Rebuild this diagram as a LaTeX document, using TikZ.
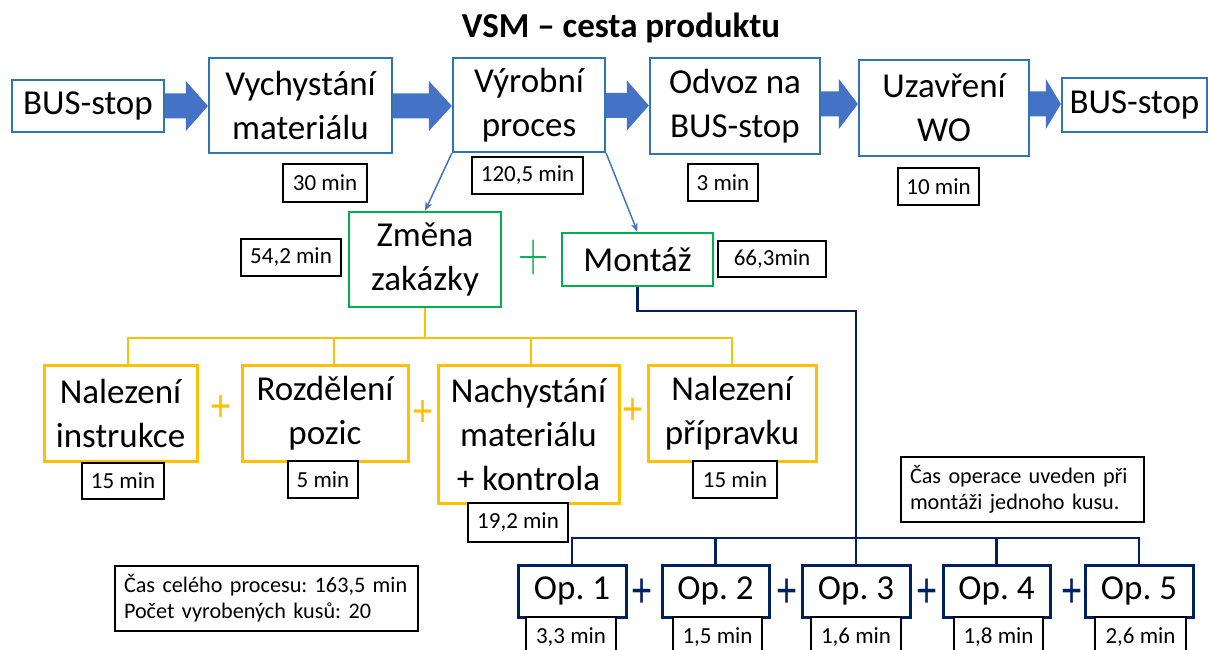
\documentclass[tikz,border=0pt]{standalone}
\usepackage{fontspec}
\setmainfont{Carlito}
\newfontfamily\plusfont{Liberation Sans}
\newfontfamily\lmfont{Latin Modern Roman}
\usetikzlibrary{arrows.meta,calc,backgrounds}
\definecolor{boxblue}{RGB}{46,117,182}
\definecolor{arrblue}{RGB}{68,114,196}
\definecolor{grn}{RGB}{0,176,80}
\definecolor{ylw}{RGB}{255,192,0}
\definecolor{navy}{RGB}{0,32,96}
\newcommand\fs[2]{\fontsize{#1}{#2}\selectfont}
% block arrow: from node #1 to node #2, head length #3 (px), centre y #4 (px)
\newcommand\blockarr[4]{%
  \fill[arrblue] let \p1=(#1.east), \p2=(#2.west) in
    (\x1,{-(#4-12.5)*1pt}) -- ({\x2-#3pt},{-(#4-12.5)*1pt}) -- ({\x2-#3pt},{-(#4-25)*1pt})
    -- (\x2,{-#4*1pt}) -- ({\x2-#3pt},{-(#4+25)*1pt}) -- ({\x2-#3pt},{-(#4+12.5)*1pt})
    -- (\x1,{-(#4+12.5)*1pt}) -- cycle;}
\tikzset{
  bbox/.style={draw=boxblue, line width=2.25pt, fill=white, font=\fs{35}{44}, align=center, inner sep=0pt},
  gbox/.style={draw=grn, line width=2.25pt, fill=white, font=\fs{35}{44}, align=center, inner sep=0pt},
  ybox/.style={draw=ylw, line width=3pt, fill=white, font=\fs{35}{44}, align=center, inner sep=0pt},
  obox/.style={draw=navy, line width=3pt, fill=white, font=\fs{35}{44}, align=center, inner sep=0pt},
  tbox/.style={draw=black, line width=1.2pt, fill=white, font=\fs{23}{26}, align=center, inner sep=0pt},
  gplus/.style={text=grn, font=\lmfont\fs{56}{56}, inner sep=0pt},
  yplus/.style={text=ylw, font=\plusfont\fs{36}{36}, inner sep=0pt},
  nplus/.style={text=navy, font=\plusfont\fs{38}{38}, inner sep=0pt},
  tarrow/.style={draw=arrblue, line width=1.5pt, -{Stealth[length=9pt,width=7pt]}},
  yconn/.style={draw=ylw, line width=2.5pt},
  nconn/.style={draw=navy, line width=2.5pt},
}
\frenchspacing
\begin{document}
\frenchspacing
\begin{tikzpicture}[x=1pt,y=-1pt]
\useasboundingbox (0,0) rectangle (1208,650);
\clip (0,0) rectangle (1208,650);

\node[font=\bfseries\fs{35}{40}, anchor=base] (title) at (621,38) {VSM – cesta produktu};

% top row
\node[bbox, minimum width=152pt, minimum height=52pt] (bus1) at (88,106) {BUS-stop};
\node[bbox, minimum width=183pt, minimum height=95pt] (vych) at (300.5,105.5) {Vychystání\\materiálu};
\node[bbox, minimum width=152pt, minimum height=94pt] (vyr) at (529,105) {Výrobní\\proces};
\node[bbox, minimum width=170pt, minimum height=96pt] (odv) at (735,106) {Odvoz na\\BUS-stop};
\node[bbox, minimum width=170pt, minimum height=96pt] (uzav) at (944,108) {Uzavření\\WO};
\node[bbox, minimum width=145pt, minimum height=54pt] (bus2) at (1134.5,105) {BUS-stop};

\node[tbox, minimum width=84pt, minimum height=38pt] (t30) at (325,183) {30 min};
\node[tbox, minimum width=111pt, minimum height=37pt] (t120) at (527.5,175.5) {120,5 min};
\node[tbox, minimum width=70pt, minimum height=37pt] (t3) at (723,182.5) {3 min};
\node[tbox, minimum width=81pt, minimum height=37pt] (t10) at (938.5,186.5) {10 min};

% middle row
\node[gbox, minimum width=152pt, minimum height=95pt] (zmena) at (425,259.5) {Změna\\zakázky};
\node[tbox, minimum width=100pt, minimum height=37pt] (t54) at (291,257.5) {54,2 min};
\node[gplus] (gp) at (534,258) {\scalebox{0.75}[1]{+}};
\node[gbox, minimum width=151pt, minimum height=53pt] (montaz) at (637.5,259.5) {Montáž};
\node[tbox, minimum width=108pt, minimum height=36pt] (t66) at (772,259) {66,3min};

% yellow row
\node[ybox, minimum width=153pt, minimum height=96pt] (nal1) at (120.5,413) {Nalezení\\instrukce};
\node[tbox, minimum width=82pt, minimum height=36pt] (t15a) at (123,481) {15 min};
\node[yplus] (yp1) at (221,409) {\scalebox{1}[1.25]{+}};
\node[ybox, minimum width=166pt, minimum height=96pt] (roz) at (325,413) {Rozdělení\\pozic};
\node[tbox, minimum width=70pt, minimum height=37pt] (t5) at (323,479.5) {5 min};
\node[yplus] (yp2) at (423,414) {\scalebox{1}[1.25]{+}};
\node[ybox, minimum width=181pt, minimum height=138pt] (nach) at (528.5,434) {Nachystání\\materiálu\\+ kontrola};
\node[tbox, minimum width=100pt, minimum height=39pt] (t19) at (518,522.5) {19,2 min};
\node[yplus] (yp3) at (633,412) {\scalebox{1}[1.25]{+}};
\node[ybox, minimum width=168pt, minimum height=96pt] (nal2) at (732,413) {Nalezení\\přípravku};
\node[tbox, minimum width=84pt, minimum height=37pt] (t15b) at (735,479.5) {15 min};

% notes
\node[tbox, text width=225pt, inner xsep=9pt, minimum height=65pt, align=left, font=\fs{22.2}{26}] (note) at (1022.5,489.5) {Čas operace uveden při\\montáži jednoho kusu.};
\node[tbox, text width=285pt, inner xsep=9pt, minimum height=65pt, align=left, font=\fs{22.2}{26}] (summ) at (266.5,598.5) {Čas celého procesu: 163,5 min\\Počet vyrobených kusů: 20};

% operations
\node[obox, minimum width=108pt, minimum height=52pt] (op1) at (572,591) {Op. 1};
\node[obox, minimum width=107pt, minimum height=52pt] (op2) at (715.5,591) {Op. 2};
\node[obox, minimum width=108pt, minimum height=52pt] (op3) at (856,591) {Op. 3};
\node[obox, minimum width=107pt, minimum height=52pt] (op4) at (996.5,591) {Op. 4};
\node[obox, minimum width=108pt, minimum height=52pt] (op5) at (1139,591) {Op. 5};
\node[nplus] (np1) at (642,593) {\scalebox{0.95}[1.3]{+}};
\node[nplus] (np2) at (787,593) {\scalebox{0.95}[1.3]{+}};
\node[nplus] (np3) at (927,593) {\scalebox{0.95}[1.3]{+}};
\node[nplus] (np4) at (1072,593) {\scalebox{0.95}[1.3]{+}};
\node[tbox, minimum width=90pt, minimum height=40pt] (b1) at (571,637) {3,3 min};
\node[tbox, minimum width=89pt, minimum height=40pt] (b2) at (717.5,637) {1,5 min};
\node[tbox, minimum width=90pt, minimum height=40pt] (b3) at (856,637) {1,6 min};
\node[tbox, minimum width=89pt, minimum height=40pt] (b4) at (998.5,637) {1,8 min};
\node[tbox, minimum width=91pt, minimum height=40pt] (b5) at (1140.5,637) {2,6 min};

% connector coordinates
\coordinate (yb1) at (128,338);
\coordinate (yb2) at (334,338);
\coordinate (yb3) at (531,338);
\coordinate (yb4) at (732,338);
\coordinate (mc) at (856,311);
\coordinate (nbar) at (0,538);

\begin{scope}[on background layer]
  \fill[white] (0,0) rectangle (1208,650);
  \blockarr{bus1}{vych}{22}{106}
  \blockarr{vych}{vyr}{23}{106}
  \blockarr{vyr}{odv}{22}{105.5}
  \blockarr{odv}{uzav}{19}{104}
  \blockarr{uzav}{bus2}{15}{104}
  \draw[tarrow] (vyr.south west) -- (zmena.north);
  \draw[tarrow] (vyr.south east) -- (montaz.north);
  \draw[yconn] (zmena.south) -- (zmena.south |- yb1);
  \draw[yconn] (yb1 |- nal1.north) -- (yb1) -- (yb4) -- (yb4 |- nal2.north);
  \draw[yconn] (yb2) -- (yb2 |- roz.north);
  \draw[yconn] (yb3) -- (yb3 |- nach.north);
  \draw[nconn] (montaz.south) -- (montaz.south |- mc) -- (mc) -- (op3.north);
  \draw[nconn] (op1.north) -- (op1.north |- nbar) -- (op5.north |- nbar) -- (op5.north);
  \draw[nconn] (op2.north |- nbar) -- (op2.north);
  \draw[nconn] (op4.north |- nbar) -- (op4.north);
\end{scope}
\end{tikzpicture}
\end{document}
